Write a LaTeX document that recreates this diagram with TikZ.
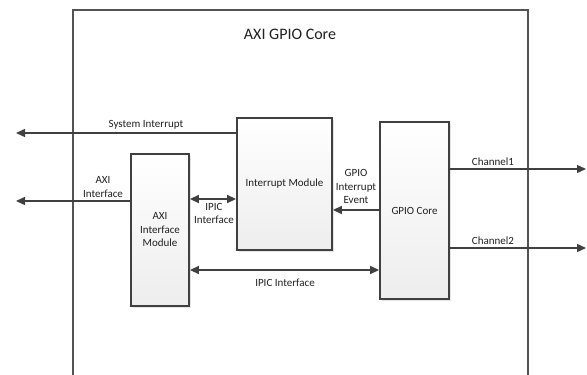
\documentclass[tikz,border=0pt]{standalone}
\usepackage{fontspec}
\setmainfont{Carlito}
\usetikzlibrary{arrows.meta,shadows}
\definecolor{ln}{HTML}{404040}
\definecolor{txt}{HTML}{202020}
\tikzset{
  modbox/.style={draw=ln,line width=1.8pt,top color=white,bottom color=gray!14,
    drop shadow={shadow xshift=2pt,shadow yshift=-2pt,fill=gray!35,opacity=0.6},
    align=center,inner sep=0pt,font=\fontsize{11}{13.5}\selectfont,text=txt},
  arr/.style={draw=ln,line width=1.4pt,-{Triangle[length=9pt,width=8pt]}},
  darr/.style={draw=ln,line width=1.4pt,{Triangle[length=9pt,width=8pt]}-{Triangle[length=9pt,width=8pt]}},
  lbl/.style={align=center,inner sep=0pt,font=\fontsize{11}{13.5}\selectfont,text=txt},
}
\begin{document}
\begin{tikzpicture}[x=1pt,y=-1pt]
\useasboundingbox (0,0) rectangle (587,375);
% outer frame (open at bottom)
\draw[draw=ln!90,line width=1.4pt] (73,376) -- (73,10) -- (528,10) -- (528,376);
\node[lbl,font=\fontsize{16}{19}\selectfont] (title) at (290,34) {AXI GPIO Core};
% modules
\node[modbox,minimum width=58pt,minimum height=152pt] (axim) at (160,230) {AXI\\Interface\\Module};
\node[modbox,minimum width=95pt,minimum height=132pt] (intm) at (284.5,184) {Interrupt Module};
\node[modbox,minimum width=69pt,minimum height=177pt] (gpio) at (414.5,210.5) {GPIO Core};
% free ends
\coordinate (sysL) at (16,133);
\coordinate (axiL) at (16,201);
\coordinate (ipicA) at (213,199);
\coordinate (ipicB) at (285,270);
\coordinate (evt) at (356,210);
\coordinate (ch1R) at (586,169);
\coordinate (ch2R) at (586,248);
% connectors
\draw[arr] (intm.west |- sysL) -- (sysL);
\draw[arr] (axim.west |- axiL) -- (axiL);
\draw[darr] (axim.east |- ipicA) -- (intm.west |- ipicA);
\draw[darr] (axim.east |- ipicB) -- (gpio.west |- ipicB);
\draw[arr] (gpio.west |- evt) -- (intm.east |- evt);
\draw[arr] (gpio.east |- ch1R) -- (ch1R);
\draw[arr] (gpio.east |- ch2R) -- (ch2R);
% labels
\node[lbl] (lsys) at (146,125) {System Interrupt};
\node[lbl] (laxi) at (103,187) {AXI\\Interface};
\node[lbl] (lipic1) at (214,213.5) {IPIC\\Interface};
\node[lbl] (levt) at (356,186.5) {GPIO\\Interrupt\\Event};
\node[lbl] (lipic2) at (285,283) {IPIC Interface};
\node[lbl] (lch1) at (493,162) {Channel1};
\node[lbl] (lch2) at (493,241) {Channel2};
\end{tikzpicture}
\end{document}
